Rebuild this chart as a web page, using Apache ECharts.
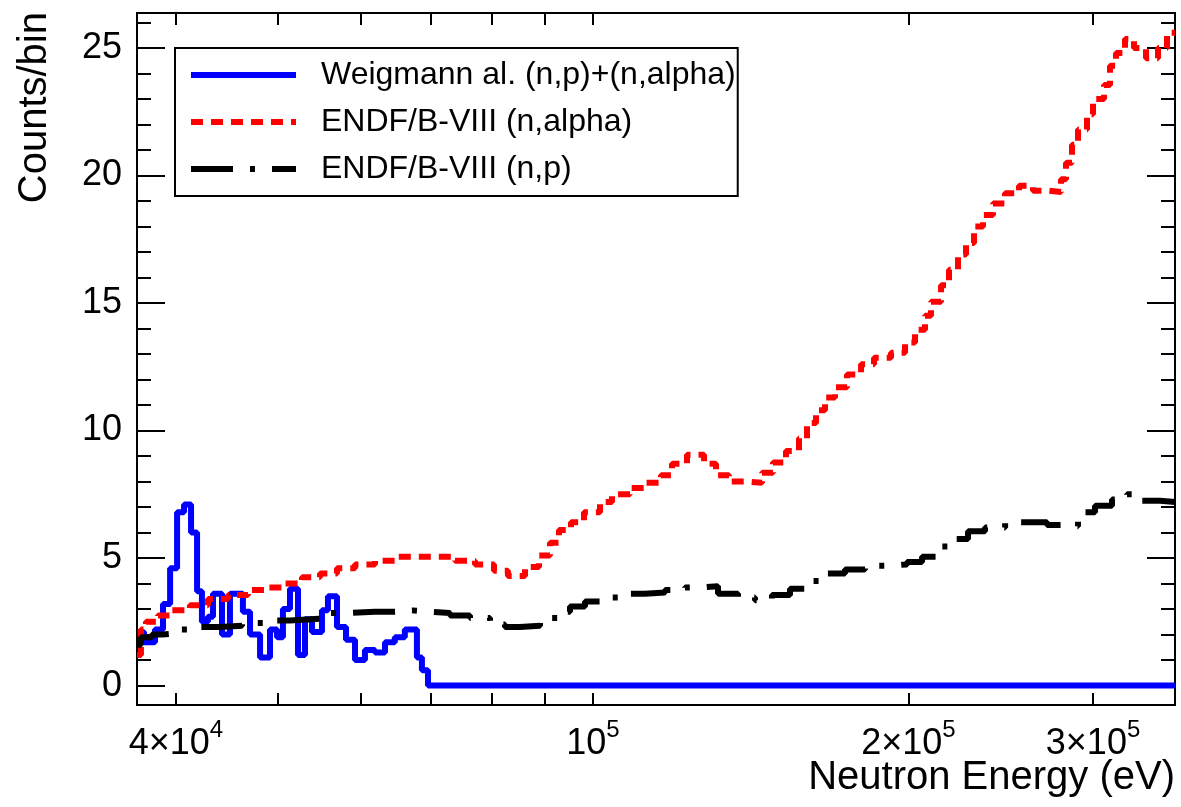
<!DOCTYPE html>
<html>
<head>
<meta charset="utf-8">
<script src="https://cdn.jsdelivr.net/npm/echarts@6/dist/echarts.min.js"></script>
<style>
    html, body { margin: 0; padding: 0; background: #fff; }
    #main { width: 1181px; height: 807px; }
</style>
</head>
<body>
<div id="main"></div>
<script type="text/javascript">
    // axis ranges
    var xMin = 36720, xMax = 359190;
    var yMin = -0.76, yMax = 26.37;

    // ticks
    var xTicks = [40000, 50000, 60000, 70000, 80000, 90000, 100000, 200000, 300000];
    var xLabelVals = [40000, 100000, 200000, 300000];
    var xLabels = ['4×10{s|4}', '10{s|5}', '2×10{s|5}', '3×10{s|5}'];
    var yMajor = [0, 5, 10, 15, 20, 25];
    var yMinor = [1, 2, 3, 4, 6, 7, 8, 9, 11, 12, 13, 14, 16, 17, 18, 19, 21, 22, 23, 24, 26];

    // Weigmann al. (n,p)+(n,alpha) - bin low edges (eV) and counts
    var weigE = [36720, 37290, 38200, 38880, 39490, 40100, 40720, 41350, 41900, 42350,
        42910, 43390, 44260, 45040, 46340, 47070, 48120, 49180, 49950, 50600,
        51390, 52300, 53110, 53940, 55130, 55860, 56980, 58120, 59280, 60590,
        61940, 63320, 64700, 66140, 67920, 68670, 69590];
    var weigV = [2.1, 1.7, 2.2, 3.2, 4.6, 6.8, 7.1, 6.0, 3.7, 2.5,
        2.7, 3.6, 2.0, 3.6, 2.9, 2.0, 1.1, 2.2, 1.9, 3.0,
        3.8, 1.2, 2.6, 2.1, 2.95, 3.5, 2.3, 1.8, 1.0, 1.4,
        1.3, 1.7, 1.9, 2.2, 1.1, 0.6, 0];

    // ENDF/B-VIII (n,alpha)
    var alphaE = [36720, 37040, 37450, 38450, 39650, 41250, 42920, 44850, 46860, 48750,
        50610, 52760, 54890, 56980, 59280, 61940, 65010, 70670, 73850, 77160,
        80450, 82960, 86120, 88810, 90980, 92800, 95280, 98040, 101550, 104260,
        108470, 112340, 116110, 118950, 122940, 127630, 131030, 134830, 139650, 144970,
        148510, 152810, 157240, 160030, 163230, 166490, 170190, 174740, 180200, 185420,
        192470, 198490, 202890, 207390, 210150, 214820, 218620, 222990, 226950, 230970,
        235590, 240820, 247250, 254970, 262940, 272340, 279610, 282710, 286460, 290260,
        296050, 299980, 307330, 311400, 315530, 321830, 328260, 337030, 346030, 352950];
    var alphaV = [1.2, 2.2, 2.5, 2.75, 2.95, 3.15, 3.4, 3.55, 3.75, 3.85,
        4.0, 4.25, 4.4, 4.6, 4.75, 4.9, 5.05, 5.05, 4.9, 4.75,
        4.5, 4.3, 4.65, 5.1, 5.6, 6.1, 6.4, 6.8, 7.2, 7.5,
        7.75, 7.95, 8.25, 8.7, 9.05, 8.7, 8.25, 8.0, 7.95, 8.35,
        8.75, 9.2, 9.7, 10.3, 10.8, 11.3, 11.7, 12.2, 12.6, 12.85,
        13.05, 13.45, 13.95, 14.5, 15.05, 15.7, 16.3, 16.9, 17.35, 18.0,
        18.45, 18.9, 19.3, 19.6, 19.4, 19.35, 19.85, 20.5, 21.2, 21.8,
        22.4, 23.0, 23.55, 24.3, 24.8, 25.35, 25.0, 24.6, 25.0, 25.6];

    // ENDF/B-VIII (n,p)
    var protE = [36720, 37040, 37950, 38790, 40100, 42170, 44070, 46250, 48640, 51390,
        53700, 55860, 58630, 61940, 64720, 67190, 69900, 73040, 76320, 79750,
        82420, 85180, 89010, 92600, 95070, 98260, 102220, 107280, 112100, 117140,
        122400, 127340, 131610, 137520, 142750, 148180, 154170, 160380, 167220, 173960,
        181770, 191200, 199350, 206040, 212940, 220080, 227950, 236630, 247300, 258350,
        271150, 280850, 290240, 301310, 312780, 323250, 334080, 347560];
    var protV = [1.6, 1.9, 2.0, 2.05, 2.2, 2.3, 2.35, 2.45, 2.55, 2.6,
        2.65, 2.85, 2.9, 2.9, 2.95, 2.9, 2.85, 2.75, 2.65, 2.4,
        2.3, 2.35, 2.65, 2.9, 3.1, 3.3, 3.45, 3.6, 3.65, 3.75,
        3.85, 3.9, 3.6, 3.45, 3.35, 3.55, 3.8, 4.1, 4.4, 4.55,
        4.7, 4.75, 4.85, 5.05, 5.45, 5.75, 6.05, 6.2, 6.4, 6.4,
        6.3, 6.25, 6.8, 7.05, 7.3, 7.5, 7.25, 7.2];

    function histData(edges, vals) {
        var d = edges.map(function (e, i) { return [e, vals[i]]; });
        d.push([xMax, vals[vals.length - 1]]);
        return d;
    }

    var font = 'Liberation Sans';
    var myChart = echarts.init(document.getElementById('main'));

    function xAxisCfg(pos, showLabel) {
        return {
            type: 'log',
            logBase: 10,
            min: xMin,
            max: xMax,
            position: pos,
            axisLine: {show: true, onZero: false, lineStyle: {color: '#000', width: 2}},
            axisTick: {show: true, inside: true, length: 12, lineStyle: {color: '#000', width: 2}, customValues: xTicks},
            axisLabel: {
                show: showLabel,
                customValues: xLabelVals,
                margin: 13,
                color: '#000',
                fontFamily: font,
                fontSize: 36,
                lineHeight: 52,
                formatter: function (v) {
                    var i = xLabelVals.indexOf(v);
                    return i >= 0 ? xLabels[i] : '';
                },
                rich: {
                    s: {fontSize: 24, lineHeight: 24, verticalAlign: 'top', fontFamily: font, color: '#000'}
                }
            },
            splitLine: {show: false},
            minorTick: {show: false}
        };
    }

    function yAxisCfg(pos, vals, len, showLabel) {
        return {
            type: 'value',
            min: yMin,
            max: yMax,
            position: pos,
            axisLine: {show: true, onZero: false, lineStyle: {color: '#000', width: 2}},
            axisTick: {show: true, inside: true, length: len, lineStyle: {color: '#000', width: 2}, customValues: vals},
            axisLabel: {
                show: showLabel,
                customValues: vals,
                margin: 15,
                color: '#000',
                fontFamily: font,
                fontSize: 36
            },
            splitLine: {show: false}
        };
    }

    var option = {
        animation: false,
        backgroundColor: '#fff',
        grid: {left: 137, right: 6, top: 13, bottom: 102, containLabel: false, outerBoundsMode: 'none'},
        graphic: [
            {
                type: 'text',
                right: 6,
                top: 758,
                style: {text: 'Neutron Energy (eV)', fontFamily: font, fontSize: 40, fill: '#000'}
            },
            {
                type: 'text',
                x: 35,
                y: 12,
                rotation: Math.PI / 2,
                style: {text: 'Counts/bin', fontFamily: font, fontSize: 40, fill: '#000', align: 'right', verticalAlign: 'middle'}
            }
        ],
        legend: {
            orient: 'vertical',
            left: 175,
            top: 48,
            padding: [9, 2, 9, 13],
            itemGap: 11,
            itemWidth: 105,
            itemHeight: 20,
            backgroundColor: '#fff',
            borderColor: '#000',
            borderWidth: 2,
            borderRadius: 0,
            itemStyle: {opacity: 0},
            lineStyle: {width: 6},
            textStyle: {fontFamily: font, fontSize: 32, color: '#000', lineHeight: 36, padding: [0, 0, 0, 20]},
            data: ['Weigmann al. (n,p)+(n,alpha)', 'ENDF/B-VIII (n,alpha)', 'ENDF/B-VIII (n,p)']
        },
        xAxis: [xAxisCfg('bottom', true), xAxisCfg('top', false)],
        yAxis: [
            yAxisCfg('left', yMajor, 28, true),
            yAxisCfg('left', yMinor, 14, false),
            yAxisCfg('right', yMajor, 28, false),
            yAxisCfg('right', yMinor, 14, false)
        ],
        series: [
            {
                name: 'Weigmann al. (n,p)+(n,alpha)',
                type: 'line',
                step: 'end',
                symbol: 'none',
                data: histData(weigE, weigV),
                lineStyle: {color: '#0000ff', width: 6},
                itemStyle: {color: '#0000ff'}
            },
            {
                name: 'ENDF/B-VIII (n,alpha)',
                type: 'line',
                step: 'end',
                symbol: 'none',
                data: histData(alphaE, alphaV),
                lineStyle: {color: '#ff0000', width: 6, type: [12, 8]},
                itemStyle: {color: '#ff0000'}
            },
            {
                name: 'ENDF/B-VIII (n,p)',
                type: 'line',
                step: 'end',
                symbol: 'none',
                data: histData(protE, protV),
                lineStyle: {color: '#000000', width: 6, type: [42, 17, 5, 17]},
                itemStyle: {color: '#000000'}
            }
        ]
    };
    myChart.setOption(option);
</script>
</body>
</html>
